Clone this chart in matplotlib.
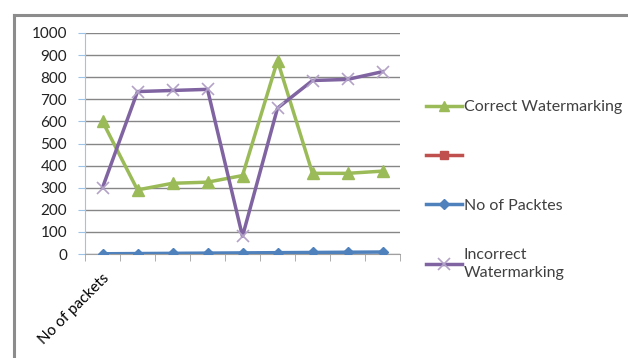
import matplotlib.pyplot as plt
from matplotlib.lines import Line2D

plt.rcParams['font.family'] = ['Lato', 'DejaVu Sans']

categories = ['No of packets', '', '', '', '', '', '', '', '']
correct = [600, 290, 320, 325, 355, 875, 365, 365, 375]
incorrect = [300, 735, 740, 745, 80, 660, 785, 790, 825]
packets = [1, 2, 3, 4, 5, 6, 7, 8, 9]
yticks = [0, 100, 200, 300, 400, 500, 600, 700, 800, 900, 1000]

W, H = 628, 358
fig = plt.figure(figsize=(W / 100, H / 100), dpi=100)

# outer chart frame (only top and left edges fall inside the image)
fig.add_artist(Line2D([14 / W, 14 / W], [0, 1 - 15 / H], color='#8c8c8c', lw=2.2))
fig.add_artist(Line2D([14 / W, 1], [1 - 15 / H, 1 - 15 / H], color='#8c8c8c', lw=2.2))

ax = fig.add_axes([85 / W, 104 / H, 315 / W, 221 / H])
x = [i + 0.5 for i in range(len(categories))]

green, red, blue, purple = '#9BBB59', '#C0504D', '#4F81BD', '#8064A2'

l_corr, = ax.plot(x, correct, color=green, lw=2.5, marker='^', ms=8, zorder=3)
l_red, = ax.plot([], [], color=red, lw=2.5, marker='s', ms=7)
l_pack, = ax.plot(x, packets, color=blue, lw=2.5, marker='D', ms=5.5, zorder=4)
l_inc, = ax.plot(x, incorrect, color=purple, lw=2.5, marker='x', ms=9,
                 mec='#B3A2C7', mew=1.2, zorder=3)

ax.set_xlim(0, 9)
ax.set_ylim(0, 1000)
ax.set_yticks(yticks)
ax.set_xticks(x)
ax.set_xticklabels(categories, rotation=45, ha='right', rotation_mode='anchor', fontsize=11)
ax.set_xticks(range(10), minor=True)
ax.tick_params(axis='x', which='major', length=0, pad=12)
ax.tick_params(axis='x', which='minor', length=5, color='#a0a0a0', direction='out')
ax.tick_params(axis='y', length=5, color='#9DC3E6', labelsize=11, pad=8, labelcolor='#222222')

ax.grid(axis='y', color='#868686', lw=1)
ax.set_axisbelow(True)
for s in ['top', 'right']:
    ax.spines[s].set_visible(False)
ax.spines['left'].set_color('#9DC3E6')
ax.spines['bottom'].set_color('#a0a0a0')

leg = fig.legend([l_corr, l_red, l_pack, l_inc],
                 ['Correct Watermarking', '', 'No of Packtes', 'Incorrect\nWatermarking'],
                 loc='upper left', bbox_to_anchor=(426 / W, 1 - 100 / H),
                 frameon=False, fontsize=11.5, handlelength=2.25, handletextpad=0.1,
                 labelspacing=2.2, borderaxespad=0, borderpad=0, markerscale=0.9,
                 labelcolor='#404040')
for t in leg.get_texts():
    t.set_linespacing(1.35)

fig.savefig('out.png', dpi=100)
